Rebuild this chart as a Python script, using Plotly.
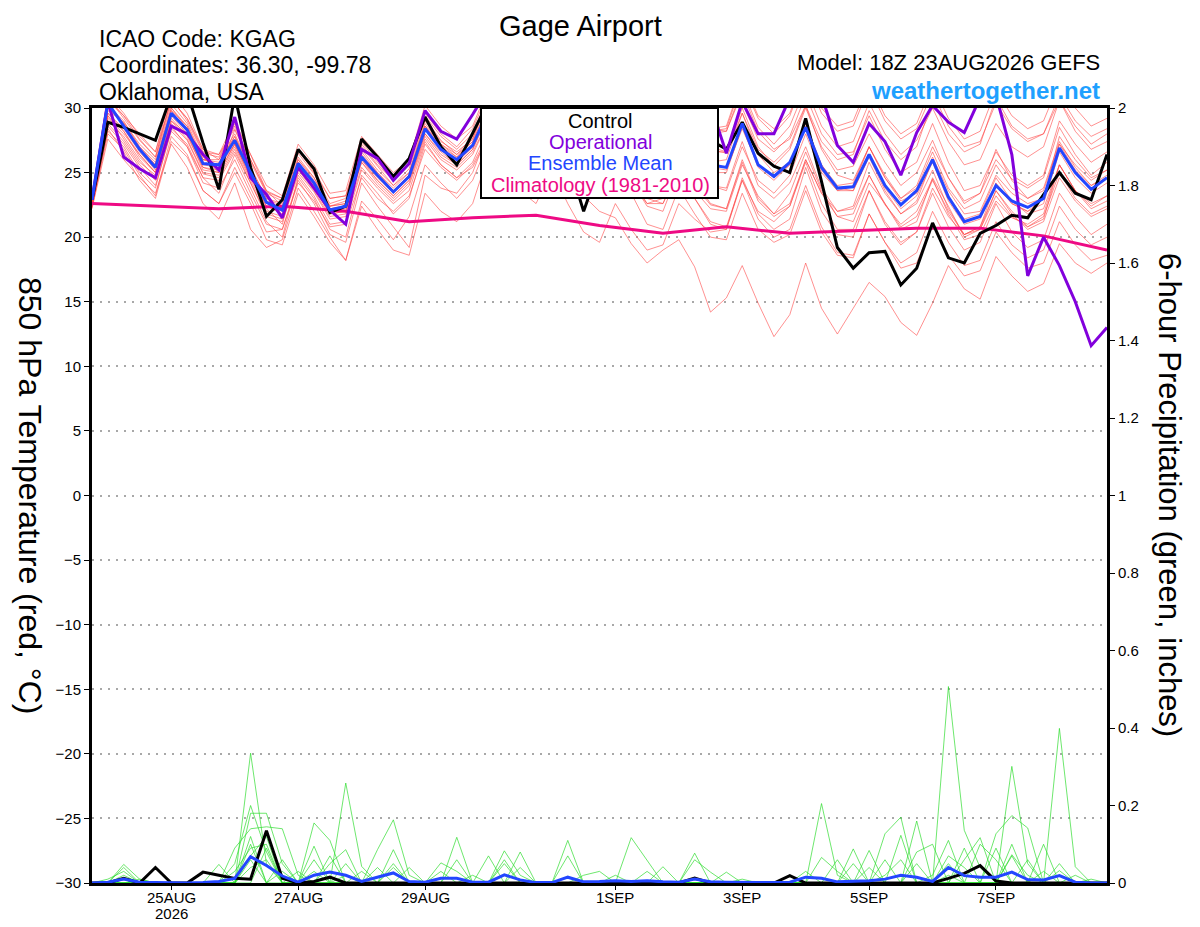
import pandas as pd
import plotly.graph_objects as go

# 6-hourly GEFS times, 23AUG2026 18Z -> 8SEP2026 18Z
times = pd.date_range("2026-08-23 18:00", periods=65, freq="6h")
clim_times = times[::4]

tick_dates = ["2026-08-25", "2026-08-27", "2026-08-29", "2026-09-01",
              "2026-09-03", "2026-09-05", "2026-09-07"]
tick_labels = ["25AUG", "27AUG", "29AUG", "1SEP", "3SEP", "5SEP", "7SEP"]
year_label = "2026"

# 850 hPa temperature (C)
control = [22.9, 28.9, 28.5, 28.0, 27.5, 31.0, 31.2, 27.3, 23.7, 31.0, 25.4, 21.6, 22.9,
           26.8, 25.3, 21.9, 22.4, 27.6, 26.2, 24.7, 26.1, 29.3, 27.0, 25.6, 28.0,
           30.5, 29.0, 31.0, 28.5, 31.5, 26.0, 22.0, 25.5, 28.0, 27.0, 31.0, 28.0, 30.5,
           29.0, 27.5, 26.8, 28.9, 26.5, 25.5, 25.0, 29.2, 24.3, 19.2, 17.6, 18.8, 18.9,
           16.3, 17.6, 21.1, 18.4, 18.0, 20.3, 20.9, 21.7, 21.5, 23.3, 25.0, 23.4, 22.9, 26.4]

operational = [22.9, 30.5, 26.2, 25.3, 24.6, 28.6, 28.0, 26.4, 25.2, 29.3, 24.6, 23.3, 21.5,
               25.4, 23.8, 22.1, 21.0, 26.8, 26.1, 24.4, 25.7, 29.8, 28.2, 27.6, 29.5,
               31.5, 31.0, 30.5, 31.2, 32.0, 31.0, 30.4, 31.0, 32.0, 31.0, 30.5, 31.0, 31.5,
               30.5, 30.2, 26.5, 30.5, 28.0, 28.0, 30.8, 31.5, 31.0, 27.1, 25.8, 28.8, 27.4,
               24.8, 28.1, 30.2, 28.9, 28.1, 30.8, 31.0, 26.4, 17.0, 20.0, 17.8, 15.0, 11.6, 13.0]

ens_mean = [22.9, 30.4, 28.6, 26.8, 25.4, 29.6, 28.3, 25.7, 25.6, 27.5, 25.0, 22.7, 22.1,
            25.7, 24.2, 22.1, 22.4, 26.2, 24.8, 23.5, 24.7, 28.4, 26.8, 26.0, 27.1,
            29.8, 28.0, 27.0, 27.3, 30.0, 28.0, 26.5, 26.8, 29.6, 27.5, 26.0, 26.3, 29.0,
            27.0, 25.6, 25.4, 28.8, 25.6, 24.7, 25.8, 28.5, 25.4, 23.8, 23.9, 26.4, 24.0,
            22.5, 23.6, 26.0, 23.1, 21.2, 21.6, 24.0, 22.8, 22.3, 23.0, 26.9, 25.0, 23.7, 24.6]

climatology = [22.6, 22.4, 22.2, 22.4, 22.0, 21.2, 21.5, 21.7, 20.9,
               20.3, 20.8, 20.3, 20.5, 20.7, 20.7, 20.1, 19.0]

member_01 = [22.8, 29.8, 28.9, 27.2, 26.0, 30.3, 28.8, 26.2, 25.0, 28.3, 25.8, 23.4, 22.8,
             26.5, 24.9, 22.6, 23.0, 27.0, 25.5, 24.0, 25.3, 29.2, 27.5, 26.4, 27.8,
             30.5, 28.8, 27.9, 28.0, 31.0, 29.0, 27.4, 27.9, 30.8, 28.6, 27.2, 27.5, 30.2,
             28.0, 26.8, 26.5, 30.0, 27.0, 25.5, 26.8, 30.0, 27.0, 25.2, 25.5, 28.0, 25.8,
             24.0, 25.0, 27.5, 24.6, 22.8, 23.4, 26.0, 24.5, 23.8, 24.6, 28.5, 26.4, 24.8, 25.8]
member_02 = [22.5, 29.0, 27.8, 26.0, 24.6, 28.8, 27.5, 24.9, 24.6, 26.8, 24.2, 21.8, 21.4,
             25.0, 23.5, 21.4, 21.6, 25.4, 24.0, 22.8, 24.0, 27.6, 26.0, 25.2, 26.4,
             29.0, 27.0, 25.8, 26.2, 29.0, 26.8, 25.2, 25.6, 28.4, 26.2, 24.6, 24.8, 27.6,
             25.5, 24.0, 23.8, 27.4, 24.0, 23.0, 24.2, 27.0, 23.8, 22.0, 22.2, 24.8, 22.5,
             21.0, 22.0, 24.5, 21.8, 19.8, 20.2, 22.8, 21.5, 21.0, 21.8, 25.6, 23.6, 22.4, 23.2]
member_03 = [23.0, 30.8, 29.2, 27.5, 26.2, 30.8, 29.0, 26.5, 26.2, 28.6, 26.0, 23.5, 23.0,
             26.8, 25.0, 23.0, 23.2, 27.4, 25.8, 24.4, 25.6, 29.6, 28.0, 27.0, 28.4,
             31.2, 29.6, 28.6, 29.0, 32.0, 30.2, 28.6, 29.0, 31.8, 30.0, 28.5, 28.8, 31.5,
             29.5, 28.0, 28.2, 31.5, 28.5, 27.2, 28.6, 31.6, 28.6, 27.0, 27.4, 30.4, 28.0,
             26.4, 27.5, 30.0, 27.4, 25.6, 26.0, 28.8, 27.0, 26.2, 27.0, 30.6, 28.6, 27.2, 28.0]
member_04 = [22.4, 28.6, 27.2, 25.4, 24.0, 28.2, 27.0, 24.2, 23.8, 26.0, 23.4, 21.0, 20.6,
             24.2, 22.8, 20.8, 21.0, 24.6, 23.0, 22.0, 23.2, 26.8, 25.4, 24.4, 25.6,
             28.0, 26.0, 24.6, 24.8, 27.6, 25.0, 23.4, 23.8, 26.8, 24.6, 22.6, 23.0, 26.2,
             24.0, 22.5, 22.2, 26.0, 23.0, 21.8, 23.4, 26.6, 23.6, 21.6, 21.2, 24.2, 22.6,
             20.6, 21.2, 24.6, 22.4, 20.0, 20.6, 23.6, 22.0, 20.8, 21.6, 25.0, 23.0, 21.8, 22.4]
member_05 = [22.3, 28.4, 26.6, 24.4, 23.0, 27.4, 26.2, 23.6, 22.6, 25.0, 22.6, 19.8, 19.4,
             23.4, 21.6, 19.6, 18.2, 22.8, 21.4, 19.8, 21.6, 25.6, 24.2, 23.0, 24.4,
             27.4, 25.8, 24.2, 24.4, 27.8, 25.6, 23.8, 24.4, 27.6, 25.4, 23.8, 24.2, 27.6,
             25.4, 24.0, 23.6, 27.0, 24.4, 23.4, 24.8, 28.0, 25.0, 23.6, 24.0, 27.0, 24.8,
             23.0, 24.0, 27.0, 24.6, 22.6, 23.4, 26.8, 24.4, 23.0, 23.8, 27.4, 25.4, 24.0, 24.8]
member_06 = [22.6, 29.4, 27.6, 25.8, 24.8, 29.0, 27.6, 25.0, 24.8, 27.0, 24.4, 22.0, 21.6,
             25.2, 23.6, 21.6, 21.8, 25.8, 24.2, 23.0, 24.2, 27.8, 26.2, 25.4, 26.6,
             29.0, 27.2, 25.8, 25.6, 27.8, 25.0, 23.2, 22.0, 21.5, 19.5, 18.0, 19.0, 19.8,
             17.7, 14.2, 15.3, 17.8, 14.9, 12.3, 14.0, 18.0, 14.5, 12.5, 14.5, 16.5, 15.4,
             13.4, 12.4, 14.9, 17.8, 16.0, 15.2, 18.5, 17.0, 15.8, 16.4, 19.5, 18.0, 17.2, 18.0]
member_07 = [22.7, 29.2, 28.0, 26.4, 25.0, 29.0, 28.0, 25.2, 25.0, 27.2, 24.6, 22.2, 21.0,
             25.4, 23.8, 21.8, 22.0, 26.0, 24.4, 23.2, 24.4, 28.0, 26.4, 25.6, 26.8,
             29.4, 27.4, 26.0, 25.8, 28.4, 26.0, 24.0, 23.6, 26.0, 23.4, 21.0, 20.6, 23.8,
             21.8, 20.0, 19.8, 23.4, 20.6, 19.6, 20.2, 23.6, 20.4, 18.6, 18.4, 21.8, 19.6,
             17.6, 18.0, 21.0, 18.6, 17.0, 17.4, 20.4, 18.8, 17.6, 18.0, 21.2, 19.4, 18.2, 18.6]
member_08 = [22.4, 28.2, 27.0, 25.0, 23.8, 28.4, 27.2, 24.6, 23.4, 26.4, 23.8, 21.2, 20.0,
             24.6, 23.0, 20.6, 20.0, 24.8, 23.4, 21.8, 23.0, 27.2, 25.6, 24.6, 25.8,
             28.6, 26.6, 25.4, 25.0, 28.2, 26.0, 24.2, 23.8, 26.8, 24.4, 22.4, 22.0, 25.2,
             23.0, 21.0, 20.6, 24.6, 21.8, 20.6, 21.4, 25.4, 22.0, 20.2, 20.0, 23.6, 21.2,
             19.6, 20.4, 23.4, 20.8, 19.0, 19.6, 22.6, 20.4, 19.2, 19.8, 23.4, 21.6, 20.2, 21.0]
member_09 = [23.0, 30.2, 29.0, 27.0, 25.6, 30.0, 28.6, 26.0, 26.0, 28.0, 25.4, 23.0, 22.6,
             26.2, 24.6, 22.4, 22.8, 26.8, 25.2, 24.0, 25.0, 29.0, 27.4, 26.6, 27.6,
             30.6, 28.6, 27.6, 28.0, 31.0, 28.8, 27.4, 27.8, 31.0, 29.0, 27.6, 28.0, 31.4,
             29.4, 28.2, 28.4, 32.0, 29.2, 28.0, 29.4, 32.6, 29.6, 28.2, 28.6, 31.6, 29.0,
             27.6, 28.4, 31.2, 28.6, 27.0, 27.4, 30.4, 28.4, 27.4, 28.0, 31.0, 29.0, 27.8, 28.4]
member_10 = [22.9, 29.6, 28.4, 26.6, 25.2, 29.4, 28.0, 25.6, 25.4, 27.2, 24.8, 22.4, 22.0,
             25.6, 24.0, 22.0, 22.2, 26.0, 24.6, 23.4, 24.6, 28.4, 26.8, 25.8, 27.0,
             29.8, 28.2, 27.0, 27.2, 30.0, 28.0, 26.4, 26.6, 29.4, 27.2, 25.6, 25.8, 28.6,
             26.6, 25.0, 25.0, 28.6, 25.4, 24.4, 25.6, 28.4, 25.2, 23.6, 23.6, 26.4, 23.8,
             22.2, 23.2, 25.8, 22.8, 21.0, 21.4, 24.0, 22.6, 22.0, 22.6, 26.6, 24.6, 23.4, 24.2]
member_11 = [22.2, 27.6, 26.0, 24.6, 23.4, 27.2, 25.4, 22.6, 21.4, 24.2, 20.6, 19.2, 19.8,
             23.8, 22.0, 20.0, 18.2, 22.4, 20.6, 19.0, 18.6, 23.4, 22.0, 21.2, 22.6,
             26.4, 24.6, 23.2, 23.4, 26.6, 24.6, 23.0, 23.2, 26.2, 24.2, 22.6, 22.6, 25.4,
             23.6, 22.2, 22.0, 25.6, 23.2, 21.8, 22.6, 26.0, 23.4, 21.6, 21.8, 24.8, 22.6,
             20.8, 21.6, 24.4, 22.0, 20.2, 20.8, 23.6, 21.8, 20.6, 21.2, 24.6, 22.8, 21.6, 22.2]
member_12 = [23.2, 31.0, 29.6, 27.8, 26.6, 31.2, 29.6, 26.8, 26.4, 29.0, 26.4, 24.0, 23.2,
             27.2, 25.6, 23.4, 23.6, 27.8, 26.4, 25.0, 26.0, 30.2, 28.6, 27.6, 28.6,
             31.6, 30.0, 29.0, 29.4, 32.4, 30.6, 29.0, 29.4, 32.2, 30.2, 28.8, 29.0, 31.8,
             29.8, 28.4, 28.2, 31.2, 28.2, 26.8, 27.6, 30.2, 26.8, 24.8, 24.4, 27.0, 24.6,
             22.8, 23.4, 26.2, 23.6, 21.8, 22.0, 24.8, 23.4, 22.6, 23.0, 27.8, 26.0, 24.6, 25.2]
member_13 = [23.0, 30.6, 29.4, 28.0, 26.6, 30.6, 29.2, 26.8, 26.0, 28.8, 26.4, 23.6, 22.4,
             26.0, 24.4, 22.4, 22.6, 26.4, 25.0, 23.6, 24.8, 28.6, 27.2, 26.4, 27.4,
             30.2, 28.4, 27.4, 27.6, 30.6, 28.2, 26.2, 26.0, 28.6, 26.0, 24.0, 23.8, 26.8,
             24.4, 22.6, 22.2, 25.8, 22.8, 21.6, 22.4, 25.8, 22.6, 20.6, 20.6, 23.6, 21.0,
             19.4, 20.4, 23.8, 21.6, 20.2, 20.8, 24.2, 22.6, 22.0, 23.0, 27.2, 25.6, 24.4, 25.2]
member_14 = [22.8, 30.0, 28.8, 27.0, 25.8, 30.0, 28.4, 26.0, 25.8, 27.8, 25.4, 23.0, 22.4,
             26.0, 24.6, 22.4, 22.6, 26.6, 25.0, 23.8, 25.0, 28.8, 27.2, 26.2, 27.4,
             30.2, 28.4, 27.4, 27.8, 30.8, 28.6, 27.0, 27.2, 30.2, 28.2, 26.8, 27.2, 30.0,
             28.0, 26.6, 26.6, 30.4, 27.6, 26.6, 27.8, 31.0, 28.0, 26.4, 26.6, 29.4, 26.8,
             25.0, 25.8, 28.8, 25.8, 23.6, 24.0, 26.6, 24.8, 24.0, 24.8, 29.0, 27.2, 25.8, 26.6]
member_15 = [22.6, 29.6, 28.2, 26.2, 25.0, 29.8, 28.2, 25.4, 25.2, 27.6, 25.2, 22.8, 22.2,
             25.8, 24.2, 22.2, 22.4, 26.2, 24.8, 23.6, 24.8, 28.6, 26.8, 25.8, 27.0,
             29.8, 27.8, 26.6, 26.8, 29.6, 27.4, 25.8, 26.0, 29.0, 27.0, 25.4, 25.8, 29.0,
             27.2, 25.8, 26.0, 29.6, 26.8, 25.8, 27.0, 30.2, 27.4, 26.0, 26.4, 29.8, 27.4,
             26.0, 27.0, 30.6, 28.0, 26.6, 27.2, 30.8, 28.6, 27.6, 28.0, 30.6, 28.2, 26.8, 27.4]
member_16 = [22.5, 28.8, 27.4, 25.6, 24.4, 28.6, 27.0, 24.6, 24.4, 26.6, 24.2, 21.6, 21.2,
             24.8, 23.2, 21.0, 21.2, 25.2, 23.8, 22.6, 23.6, 27.4, 25.6, 24.6, 25.4,
             27.8, 25.4, 23.6, 22.6, 25.2, 22.6, 20.4, 19.6, 22.6, 20.6, 19.0, 19.4, 22.6,
             21.4, 20.4, 20.6, 24.4, 22.0, 21.2, 22.4, 26.0, 23.4, 22.0, 22.4, 25.8, 23.4,
             21.8, 22.8, 26.0, 23.2, 21.4, 21.8, 24.6, 22.8, 21.8, 22.2, 25.6, 23.6, 22.2, 22.8]
member_17 = [22.9, 30.4, 28.8, 26.8, 25.6, 29.8, 28.6, 26.0, 25.6, 27.8, 25.2, 22.8, 22.2,
             25.8, 24.2, 22.2, 22.4, 26.2, 24.8, 23.6, 24.8, 28.6, 27.0, 26.2, 27.6,
             30.8, 29.2, 28.4, 28.8, 31.6, 29.8, 28.4, 28.6, 31.2, 29.4, 28.0, 28.0, 30.6,
             28.6, 27.0, 26.6, 29.6, 26.4, 25.0, 25.8, 28.8, 25.6, 23.8, 23.6, 26.2, 23.6,
             21.8, 22.6, 25.2, 22.2, 20.2, 20.6, 23.2, 21.6, 20.8, 21.4, 25.6, 23.6, 22.6, 23.2]
member_18 = [22.3, 28.0, 26.8, 24.8, 23.2, 27.8, 26.4, 23.6, 22.6, 25.4, 23.0, 20.4, 20.6,
             24.4, 22.6, 20.2, 19.6, 24.2, 22.4, 20.8, 19.2, 24.8, 23.8, 23.4, 25.0,
             28.2, 26.6, 25.6, 26.0, 29.0, 27.0, 25.4, 25.8, 28.8, 26.8, 25.2, 25.6, 28.8,
             26.8, 25.4, 25.2, 28.4, 25.6, 24.6, 25.6, 28.6, 25.6, 24.0, 24.2, 27.0, 24.6,
             23.0, 23.8, 26.6, 23.8, 22.2, 22.8, 25.6, 23.8, 23.0, 23.6, 27.2, 25.2, 24.0, 24.6]
member_19 = [22.7, 29.4, 28.2, 26.4, 25.0, 29.2, 27.8, 25.4, 25.0, 27.2, 24.6, 22.4, 21.8,
             25.4, 23.8, 21.8, 22.0, 25.8, 24.4, 23.2, 24.4, 28.0, 26.6, 25.6, 26.8,
             29.6, 27.8, 26.6, 26.6, 29.2, 27.0, 25.0, 24.8, 27.6, 25.0, 23.0, 22.6, 25.2,
             23.0, 21.2, 20.8, 24.4, 21.4, 20.0, 20.6, 24.0, 20.8, 18.8, 18.6, 21.8, 19.6,
             18.0, 18.8, 22.0, 19.6, 17.8, 18.2, 21.2, 19.4, 18.4, 19.0, 22.4, 20.6, 19.4, 20.0]
member_20 = [23.1, 30.8, 29.4, 27.6, 26.2, 30.6, 29.2, 26.6, 26.4, 28.4, 26.0, 23.6, 23.0,
             26.8, 25.2, 23.0, 23.2, 27.2, 25.6, 24.4, 25.6, 29.4, 27.8, 26.8, 28.0,
             31.0, 29.2, 28.2, 28.6, 31.6, 29.6, 28.0, 28.4, 31.6, 29.6, 28.2, 28.6, 31.8,
             29.8, 28.4, 28.6, 32.2, 29.4, 28.4, 29.6, 32.8, 30.0, 28.6, 29.0, 32.0, 29.4,
             28.0, 28.8, 31.8, 29.2, 27.6, 28.2, 31.4, 29.4, 28.4, 29.0, 32.0, 30.0, 28.6, 29.2]

members = [member_01, member_02, member_03, member_04, member_05, member_06, member_07,
           member_08, member_09, member_10, member_11, member_12, member_13, member_14,
           member_15, member_16, member_17, member_18, member_19, member_20]

# 6-hour precipitation (inches)
control_precip = [0, 0, 0.012, 0, 0.04, 0, 0, 0.028, 0.02, 0.012, 0.01, 0.135, 0.012,
                  0, 0.004, 0.015, 0, 0, 0, 0, 0, 0, 0, 0, 0,
                  0, 0, 0, 0, 0, 0, 0, 0, 0, 0, 0, 0, 0, 0.013, 0, 0,
                  0, 0, 0, 0.019, 0, 0, 0, 0, 0, 0, 0, 0, 0, 0.012, 0.025, 0.045, 0.005,
                  0, 0, 0, 0, 0, 0, 0]
mean_precip = [0, 0.002, 0.01, 0.002, 0.001, 0, 0, 0.001, 0.004, 0.012, 0.068, 0.045, 0.018,
               0.002, 0.02, 0.028, 0.02, 0.004, 0.015, 0.026, 0.004, 0.002, 0.012, 0.012, 0.002,
               0.002, 0.021, 0.008, 0.001, 0.001, 0.015, 0.003, 0.004, 0.006, 0.004, 0.006,
               0.003, 0.002, 0.01, 0.003, 0.002, 0.001, 0.001, 0.001, 0.002, 0.015, 0.012,
               0.003, 0.004, 0.006, 0.01, 0.02, 0.015, 0.004, 0.04, 0.019, 0.015, 0.015,
               0.028, 0.009, 0.008, 0.019, 0.002, 0, 0]

precip_01 = [0, 0, 0.048, 0.01, 0, 0, 0, 0, 0, 0, 0.335, 0.05, 0, 0, 0, 0, 0.02, 0, 0, 0,
             0, 0, 0, 0, 0, 0, 0.083, 0.02, 0, 0, 0, 0, 0, 0, 0, 0, 0, 0, 0, 0,
             0, 0, 0, 0, 0, 0, 0.205, 0.02, 0, 0, 0, 0, 0, 0, 0.02, 0, 0, 0, 0.07, 0,
             0, 0, 0, 0, 0]
precip_02 = [0, 0, 0.04, 0, 0, 0, 0, 0, 0, 0, 0.18, 0.18, 0.05, 0, 0.155, 0.11, 0, 0, 0, 0.04,
             0, 0, 0, 0.118, 0, 0, 0, 0, 0, 0, 0, 0, 0, 0, 0.117, 0.06, 0, 0, 0, 0,
             0, 0, 0, 0, 0, 0, 0, 0, 0, 0, 0, 0, 0, 0, 0.507, 0.136, 0.04, 0, 0, 0,
             0, 0, 0, 0, 0]
precip_03 = [0, 0, 0, 0, 0, 0, 0, 0, 0, 0.09, 0.14, 0.145, 0.14, 0.02, 0, 0, 0.258, 0.043, 0, 0,
             0, 0, 0, 0, 0, 0, 0, 0, 0, 0, 0.11, 0, 0, 0, 0, 0, 0, 0, 0.077, 0,
             0, 0, 0, 0, 0, 0, 0, 0, 0, 0, 0, 0, 0, 0, 0, 0, 0, 0, 0.301, 0.05,
             0, 0, 0, 0, 0]
precip_04 = [0, 0, 0, 0, 0, 0, 0, 0, 0.048, 0, 0.12, 0, 0, 0, 0.095, 0, 0, 0, 0.086, 0.163,
             0.02, 0, 0, 0, 0, 0, 0, 0.08, 0, 0, 0, 0, 0, 0, 0, 0, 0, 0, 0, 0,
             0, 0, 0, 0, 0, 0, 0, 0, 0, 0, 0.127, 0.17, 0, 0, 0, 0, 0, 0, 0, 0,
             0, 0.399, 0.042, 0, 0]
precip_05 = [0, 0, 0, 0.01, 0, 0, 0, 0, 0, 0, 0, 0.09, 0, 0, 0, 0.05, 0.086, 0, 0, 0,
             0, 0, 0.052, 0.03, 0, 0.07, 0, 0, 0, 0, 0, 0, 0, 0, 0, 0, 0, 0, 0.06, 0.028,
             0, 0, 0, 0, 0, 0, 0, 0, 0.088, 0, 0, 0, 0.16, 0, 0, 0, 0, 0.127, 0.174, 0.142,
             0, 0, 0, 0, 0]
precip_06 = [0, 0, 0, 0, 0, 0, 0, 0, 0, 0, 0.06, 0, 0.03, 0, 0, 0, 0, 0, 0, 0.086,
             0, 0, 0, 0, 0, 0, 0.05, 0, 0, 0, 0.07, 0, 0, 0, 0, 0, 0, 0, 0, 0,
             0.028, 0, 0, 0, 0, 0, 0, 0, 0, 0.084, 0, 0.123, 0, 0, 0, 0.06, 0.117, 0, 0, 0,
             0.1, 0, 0, 0, 0]
precip_07 = [0, 0, 0, 0, 0, 0, 0, 0, 0, 0.03, 0.09, 0.1, 0, 0, 0.06, 0, 0, 0, 0.04, 0,
             0, 0, 0, 0, 0, 0, 0, 0, 0, 0, 0, 0, 0, 0, 0, 0, 0.042, 0, 0, 0,
             0, 0, 0, 0, 0, 0, 0.066, 0.03, 0, 0, 0, 0, 0, 0.02, 0.11, 0, 0.1, 0.06, 0, 0,
             0, 0.032, 0, 0, 0]
precip_08 = [0, 0, 0.02, 0, 0, 0, 0, 0, 0, 0, 0.1, 0, 0.06, 0, 0, 0.07, 0, 0, 0, 0,
             0, 0, 0.03, 0, 0, 0, 0, 0.04, 0, 0, 0, 0, 0, 0.02, 0, 0, 0, 0, 0, 0,
             0, 0, 0, 0, 0, 0.03, 0, 0, 0.05, 0, 0.06, 0, 0, 0, 0.05, 0, 0, 0, 0.073, 0.02,
             0, 0, 0, 0.01, 0]
precip_09 = [0, 0, 0, 0, 0, 0, 0, 0, 0, 0, 0.07, 0.12, 0, 0.03, 0, 0, 0.05, 0, 0, 0,
             0.04, 0, 0, 0, 0.02, 0, 0, 0, 0, 0, 0, 0, 0, 0, 0, 0, 0, 0, 0, 0,
             0, 0, 0, 0, 0.02, 0, 0, 0, 0, 0.04, 0, 0, 0.08, 0.1, 0, 0, 0, 0.09, 0, 0,
             0.03, 0, 0, 0, 0]
precip_10 = [0, 0.01, 0.03, 0, 0, 0, 0, 0, 0, 0.05, 0.2, 0.08, 0, 0, 0, 0, 0, 0.03, 0, 0.05,
             0, 0, 0, 0, 0, 0, 0.06, 0, 0, 0, 0, 0, 0, 0, 0, 0.03, 0, 0, 0, 0,
             0, 0.01, 0, 0, 0, 0, 0, 0.06, 0, 0, 0, 0, 0.05, 0, 0, 0.09, 0, 0, 0.1, 0,
             0, 0.05, 0, 0, 0]
precip_11 = [0, 0, 0, 0, 0, 0, 0, 0, 0, 0, 0.04, 0.06, 0, 0, 0.03, 0, 0, 0, 0, 0,
             0, 0, 0, 0.06, 0, 0, 0, 0, 0, 0, 0, 0.02, 0.03, 0, 0, 0, 0, 0, 0, 0,
             0, 0, 0, 0, 0, 0, 0, 0, 0, 0, 0.02, 0.06, 0, 0, 0.07, 0.04, 0, 0, 0, 0.06,
             0, 0, 0.02, 0, 0]

precip_members = [precip_01, precip_02, precip_03, precip_04, precip_05, precip_06,
                  precip_07, precip_08, precip_09, precip_10, precip_11]

FONT = "Liberation Sans, Arial, Helvetica, sans-serif"
# page sits 8px in from the window corner, so the figure is laid out in page px minus 8
W, H = 1192, 919
L, R, T, B = 84, 1099, 100, 875


def px(x):
    # screen x (window px) -> paper fraction
    return (x - 8 - L) / (R - L)


def py(y):
    return (B - (y - 8)) / (B - T)


fig = go.Figure()

for m in members:
    fig.add_trace(go.Scatter(x=times, y=m, mode="lines", line=dict(color="rgba(255,70,70,0.75)", width=0.8),
                             showlegend=False, hoverinfo="skip"))

for p in precip_members:
    fig.add_trace(go.Scatter(x=times, y=p, mode="lines", yaxis="y2",
                             line=dict(color="rgba(40,220,40,0.85)", width=0.8),
                             showlegend=False, hoverinfo="skip"))

fig.add_trace(go.Scatter(x=clim_times, y=climatology, mode="lines", line=dict(color="#ee0a84", width=3),
                         showlegend=False))
fig.add_trace(go.Scatter(x=times, y=control, mode="lines", line=dict(color="black", width=3),
                         showlegend=False))
fig.add_trace(go.Scatter(x=times, y=operational, mode="lines", line=dict(color="#8200dc", width=3),
                         showlegend=False))
fig.add_trace(go.Scatter(x=times, y=ens_mean, mode="lines", line=dict(color="#2346ff", width=3),
                         showlegend=False))
fig.add_trace(go.Scatter(x=times, y=control_precip, mode="lines", yaxis="y2",
                         line=dict(color="black", width=3), showlegend=False))
fig.add_trace(go.Scatter(x=times, y=mean_precip, mode="lines", yaxis="y2",
                         line=dict(color="#2346ff", width=3), showlegend=False))

fig.update_layout(
    width=W, height=H,
    margin=dict(l=L, r=W - R, t=T, b=H - B, autoexpand=False),
    paper_bgcolor="white", plot_bgcolor="white",
    font=dict(family=FONT, color="black"),
    xaxis=dict(
        range=[times[0], times[-1]], automargin=False,
        tickvals=pd.to_datetime(tick_dates), showticklabels=False,
        ticks="outside", ticklen=4, tickcolor="black",
        showgrid=False, zeroline=False,
        showline=True, linecolor="black", linewidth=3, mirror=True,
    ),
    yaxis=dict(
        range=[-30, 30], tickvals=list(range(-30, 31, 5)), automargin=False,
        ticks="outside", ticklen=5, tickcolor="black",
        showgrid=True, gridcolor="#a8a8a8", griddash="2px,6px", gridwidth=1.5,
        zeroline=False, showline=True, linecolor="black", linewidth=3,
        tickfont=dict(size=15),
    ),
    yaxis2=dict(
        range=[0, 2], tickvals=[0, 0.2, 0.4, 0.6, 0.8, 1, 1.2, 1.4, 1.6, 1.8, 2],
        ticktext=["0", "0.2", "0.4", "0.6", "0.8", "1", "1.2", "1.4", "1.6", "1.8", "2"],
        overlaying="y", side="right", automargin=False,
        ticks="outside", ticklen=5, tickcolor="black",
        showgrid=False, zeroline=False, showline=True, linecolor="black", linewidth=3,
        tickfont=dict(size=15),
    ),
)

# date labels under the axis, placed at their axis dates
for d, lab in zip(tick_dates, tick_labels):
    fig.add_annotation(x=d, y=py(897), xref="x", yref="paper", text=lab, showarrow=False,
                       font=dict(size=15), xanchor="center", yanchor="middle")
fig.add_annotation(x=tick_dates[0], y=py(913), xref="x", yref="paper", text=year_label, showarrow=False,
                   font=dict(size=15), xanchor="center", yanchor="middle")

# legend box
fig.add_shape(type="rect", xref="paper", yref="paper", x0=px(481), x1=px(718), y0=py(198), y1=py(108),
              fillcolor="white", line=dict(color="black", width=2), layer="above")
legend_items = [("Control", "black", 121), ("Operational", "#8200dc", 142),
                ("Ensemble Mean", "#2346ff", 163), ("Climatology (1981-2010)", "#ee0a84", 185)]
for text, color, y in legend_items:
    fig.add_annotation(x=px(600), y=py(y), xref="paper", yref="paper", text=text, showarrow=False,
                       font=dict(size=20, color=color), xanchor="center", yanchor="middle")

# header texts
fig.add_annotation(x=px(580), y=py(8.5), xref="paper", yref="paper", text="Gage Airport",
                   showarrow=False, font=dict(size=29), xanchor="center", yanchor="top")
for text, y in [("ICAO Code: KGAG", 39), ("Coordinates: 36.30, -99.78", 65), ("Oklahoma, USA", 92)]:
    fig.add_annotation(x=px(97), y=py(y), xref="paper", yref="paper", text=text, showarrow=False,
                       font=dict(size=23), xanchor="left", yanchor="middle")
fig.add_annotation(x=px(1102), y=py(63), xref="paper", yref="paper", text="Model: 18Z 23AUG2026 GEFS",
                   showarrow=False, font=dict(size=22), xanchor="right", yanchor="middle")
fig.add_annotation(x=px(1102), y=py(91), xref="paper", yref="paper", text="<b>weathertogether.net</b>",
                   showarrow=False, font=dict(size=24, color="#1ea0ff"), xanchor="right", yanchor="middle")

# axis titles (read top to bottom)
fig.add_annotation(x=px(30), y=py(495), xref="paper", yref="paper", text="850 hPa Temperature (red, °C)",
                   showarrow=False, textangle=90, font=dict(size=32), xanchor="center", yanchor="middle")
fig.add_annotation(x=px(1170), y=py(495), xref="paper", yref="paper",
                   text="6-hour Precipitation (green, inches)",
                   showarrow=False, textangle=90, font=dict(size=31), xanchor="center", yanchor="middle")

fig.write_html("out.html")
